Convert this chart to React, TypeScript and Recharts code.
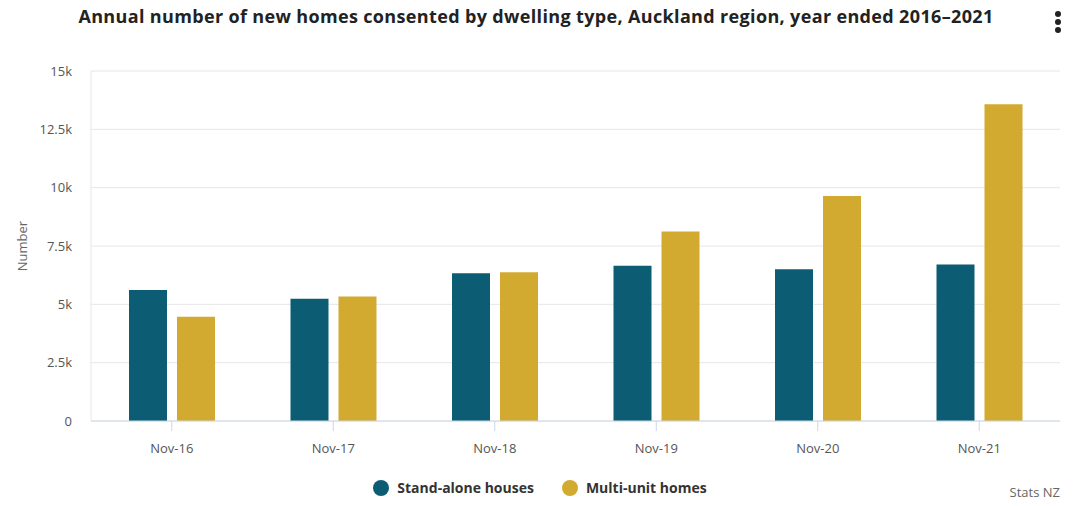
// @ts-nocheck
import { BarChart, Bar, XAxis, YAxis, CartesianGrid } from 'recharts';

const categories = ['Nov-16', 'Nov-17', 'Nov-18', 'Nov-19', 'Nov-20', 'Nov-21'];
const standAlone = [5610, 5240, 6330, 6650, 6500, 6710];
const multiUnit = [4470, 5340, 6380, 8120, 9640, 13580];
const yTicks = [0, 2500, 5000, 7500, 10000, 12500, 15000];

const TEAL = '#0c5c73';
const GOLD = '#d3aa30';
const FONT = '"Open Sans", "Noto Sans", sans-serif';

const data = categories.map((name, i) => ({
  name,
  standAlone: standAlone[i],
  multiUnit: multiUnit[i],
}));

const legendItems = [
  { label: 'Stand-alone houses', color: TEAL },
  { label: 'Multi-unit homes', color: GOLD },
];

const formatK = (v: number) => (v === 0 ? '0' : `${v / 1000}k`);

export default function App() {
  return (
    <div style={{ position: 'absolute', left: 0, top: 0, width: 1080, height: 506, background: '#fff', fontFamily: FONT }}>
      <div style={{ position: 'absolute', top: 4, left: 0, width: 1072, textAlign: 'center', fontSize: 18, letterSpacing: 0.35, fontWeight: 700, color: '#222', whiteSpace: 'nowrap' }}>
        Annual number of new homes consented by dwelling type, Auckland region, year ended 2016–2021
      </div>
      <div style={{ position: 'absolute', left: 1055, top: 11 }}>
        {[0, 1, 2].map((i) => (
          <div key={i} style={{ width: 6, height: 6, borderRadius: 3, background: '#222', marginBottom: 2 }} />
        ))}
      </div>
      <BarChart
        width={1080}
        height={506}
        data={data}
        margin={{ top: 71, right: 20, bottom: 55, left: 0 }}
        barSize={38}
        barGap={10}
      >
        <CartesianGrid vertical={false} stroke="#e6e6e6" />
        <XAxis
          dataKey="name"
          height={30}
          axisLine={{ stroke: '#ccd6eb' }}
          tickLine={{ stroke: '#ccd6eb' }}
          tickSize={10}
          tickMargin={13}
          tick={{ fill: '#555', fontSize: 13, fontFamily: FONT }}
        />
        <YAxis
          width={91}
          domain={[0, 15000]}
          ticks={yTicks}
          tickFormatter={formatK}
          axisLine={{ stroke: '#e6e6e6' }}
          tickLine={false}
          tickSize={0}
          tickMargin={19}
          tick={{ fill: '#555', fontSize: 13, fontFamily: FONT }}
          label={{ value: 'Number', angle: -90, position: 'insideLeft', offset: 22, textAnchor: 'middle', fill: '#666', fontSize: 13, fontFamily: FONT }}
        />
        <Bar dataKey="standAlone" name="Stand-alone houses" fill={TEAL} isAnimationActive={false} />
        <Bar dataKey="multiUnit" name="Multi-unit homes" fill={GOLD} isAnimationActive={false} />
      </BarChart>
      <div style={{ position: 'absolute', top: 478, left: 0, width: 1080, display: 'flex', justifyContent: 'center', alignItems: 'center', gap: 28 }}>
        {legendItems.map((item) => (
          <div key={item.label} style={{ display: 'flex', alignItems: 'center' }}>
            <span style={{ width: 16, height: 16, borderRadius: 8, background: item.color, display: 'inline-block', marginRight: 8 }} />
            <span style={{ fontSize: 14, fontWeight: 700, color: '#333' }}>{item.label}</span>
          </div>
        ))}
      </div>
      <div style={{ position: 'absolute', right: 20, top: 483, fontSize: 13, color: '#666' }}>Stats NZ</div>
    </div>
  );
}
